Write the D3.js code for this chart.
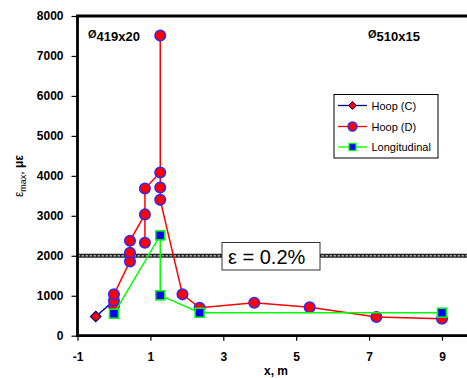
<!DOCTYPE html>
<html>
<head>
<meta charset="utf-8">
<script src="https://cdn.jsdelivr.net/npm/d3@7"></script>
<style>
  body { margin: 0; background: #fff; }
  svg { display: block; font-family: "Liberation Sans", Arial, sans-serif; }
</style>
</head>
<body>
<div id="chart"></div>
<script>
// values: [x, m ; strain, microstrain]
var hoopC = [[-0.5, 480], [0, 875]];
var hoopD = [[0, 742], [0, 875], [0, 1035], [0.44, 1860], [0.44, 2075], [0.44, 2375],
  [0.85, 3035], [0.85, 2325], [0.85, 3685], [1.27, 4085], [1.27, 7510], [1.27, 3710],
  [1.27, 3400], [1.88, 1035], [2.35, 700], [3.85, 825], [5.37, 710], [7.2, 468], [9, 425]];
var longitudinal = [[0, 550], [1.27, 2510], [1.27, 1010], [2.35, 575], [9, 575]];
var threshold = 2000;
var xTicks = [-1, 1, 3, 5, 7, 9];
var yTicks = [0, 1000, 2000, 3000, 4000, 5000, 6000, 7000, 8000];
var legendNames = ["Hoop (C)", "Hoop (D)", "Longitudinal"];

var W = 467, H = 378;
var pLeft = 77.5, pTop = 16, pBottom = 335.7, pRight = 467.5;

var svg = d3.select("#chart").append("svg").attr("width", W).attr("height", H);

var x = d3.scaleLinear().domain([-1, 9.7]).range([pLeft, pRight]);
var y = d3.scaleLinear().domain([0, 8000]).range([pBottom, pTop]);

// threshold line (chain look)
svg.append("line").attr("x1", pLeft).attr("x2", W).attr("y1", y(threshold)).attr("y2", y(threshold))
  .attr("stroke", "#222").attr("stroke-width", 4);
svg.append("line").attr("x1", pLeft).attr("x2", W).attr("y1", y(threshold)).attr("y2", y(threshold))
  .attr("stroke", "#aaa").attr("stroke-width", 1.4).attr("stroke-dasharray", "2.5,1.5");

var line = d3.line().x(function (d) { return x(d[0]); }).y(function (d) { return y(d[1]); });

// Hoop (C)
svg.append("path").datum(hoopC).attr("d", line).attr("fill", "none")
  .attr("stroke", "#000080").attr("stroke-width", 1.5);
svg.selectAll(".dC").data(hoopC.slice(0, 1)).enter().append("path")
  .attr("d", d3.symbol().type(d3.symbolDiamond2).size(70))
  .attr("transform", function (d) { return "translate(" + x(d[0]) + "," + y(d[1]) + ")"; })
  .attr("fill", "#ff0000").attr("stroke", "#000080").attr("stroke-width", 1.2);

// Hoop (D)
svg.append("path").datum(hoopD).attr("d", line).attr("fill", "none")
  .attr("stroke", "#ff0000").attr("stroke-width", 1.5);
svg.selectAll(".dD").data(hoopD).enter().append("circle")
  .attr("cx", function (d) { return x(d[0]); }).attr("cy", function (d) { return y(d[1]); })
  .attr("r", 5.3).attr("fill", "#ff0000").attr("stroke", "#2b2bff").attr("stroke-width", 1.5);

// Longitudinal
svg.append("path").datum(longitudinal).attr("d", line).attr("fill", "none")
  .attr("stroke", "#00ff00").attr("stroke-width", 1.5);
svg.selectAll(".dL").data(longitudinal).enter().append("rect")
  .attr("x", function (d) { return x(d[0]) - 4.5; }).attr("y", function (d) { return y(d[1]) - 4.5; })
  .attr("width", 9).attr("height", 9)
  .attr("fill", "#0000ff").attr("stroke", "#00ff00").attr("stroke-width", 1.5);

// axes
var xAxis = svg.append("g").attr("transform", "translate(0," + pBottom + ")")
  .call(d3.axisBottom(x).tickValues(xTicks).tickSize(5).tickSizeOuter(0).tickPadding(12)
    .tickFormat(String));
xAxis.select(".domain").remove();
xAxis.selectAll("line").attr("stroke", "#000").attr("stroke-width", 1.2);
xAxis.selectAll("text").attr("font-size", 12).attr("font-weight", "bold").attr("fill", "#000");

var yAxis = svg.append("g").attr("transform", "translate(" + pLeft + ",0)")
  .call(d3.axisLeft(y).tickValues(yTicks).tickSize(6).tickSizeOuter(0).tickPadding(8)
    .tickFormat(String));
yAxis.select(".domain").remove();
yAxis.selectAll("line").attr("stroke", "#000").attr("stroke-width", 1.2);
yAxis.selectAll("text").attr("font-size", 12).attr("font-weight", "bold").attr("fill", "#000");

// frame: left, bottom, top
svg.append("path").attr("d", "M" + W + "," + pTop + "H" + pLeft + "V" + pBottom + "H" + W)
  .attr("fill", "none").attr("stroke", "#000").attr("stroke-width", 2.8);

// threshold label
var lb = svg.append("g").attr("transform", "translate(222,242.5)");
lb.append("rect").attr("width", 98).attr("height", 27.5).attr("fill", "#fff")
  .attr("stroke", "#333").attr("stroke-width", 1);
lb.append("text").attr("x", 6).attr("y", 21).attr("font-size", 20).attr("fill", "#000")
  .text("\u03b5 = 0.2%");

// pipe size notes
svg.append("text").attr("x", 88).attr("y", 41).attr("font-size", 13).attr("font-weight", "bold")
  .html("<tspan font-size='11' dy='-3'>\u00d8</tspan><tspan dy='3'>419x20</tspan>");
svg.append("text").attr("x", 368).attr("y", 41).attr("font-size", 13).attr("font-weight", "bold")
  .html("<tspan font-size='11' dy='-3'>\u00d8</tspan><tspan dy='3'>510x15</tspan>");

// axis titles
svg.append("text").attr("x", 276).attr("y", 375).attr("text-anchor", "middle")
  .attr("font-size", 12).attr("font-weight", "bold").text("x, m");
svg.append("text").attr("transform", "translate(23,176) rotate(-90)").attr("text-anchor", "middle")
  .attr("font-size", 12)
  .html("\u03b5<tspan font-size='9' dy='3'>max</tspan><tspan dy='-3'>, </tspan><tspan font-weight='bold'>\u03bc\u03b5</tspan>");

// legend
var lg = svg.append("g").attr("transform", "translate(334,94.5)");
lg.append("rect").attr("width", 104).attr("height", 63.5).attr("fill", "#fff")
  .attr("stroke", "#000").attr("stroke-width", 1);
var ly = [11, 32, 52.5];
var lcol = ["#000080", "#ff0000", "#00ff00"];
legendNames.forEach(function (name, i) {
  var g = lg.append("g").attr("transform", "translate(0," + ly[i] + ")");
  g.append("line").attr("x1", 4).attr("x2", 33).attr("stroke", lcol[i]).attr("stroke-width", 1.3);
  if (i === 0) {
    g.append("path").attr("d", d3.symbol().type(d3.symbolDiamond2).size(40))
      .attr("transform", "translate(18.5,0)").attr("fill", "#ff0000").attr("stroke", "#000080");
  } else if (i === 1) {
    g.append("circle").attr("cx", 18.5).attr("r", 4.5).attr("fill", "#ff0000")
      .attr("stroke", "#2b2bff").attr("stroke-width", 1.3);
  } else {
    g.append("rect").attr("x", 15).attr("y", -3.5).attr("width", 7).attr("height", 7)
      .attr("fill", "#0000ff").attr("stroke", "#00ff00").attr("stroke-width", 1.3);
  }
  g.append("text").attr("x", 37.5).attr("y", 4).attr("font-size", 11).attr("fill", "#000").text(name);
});
</script>
</body>
</html>
